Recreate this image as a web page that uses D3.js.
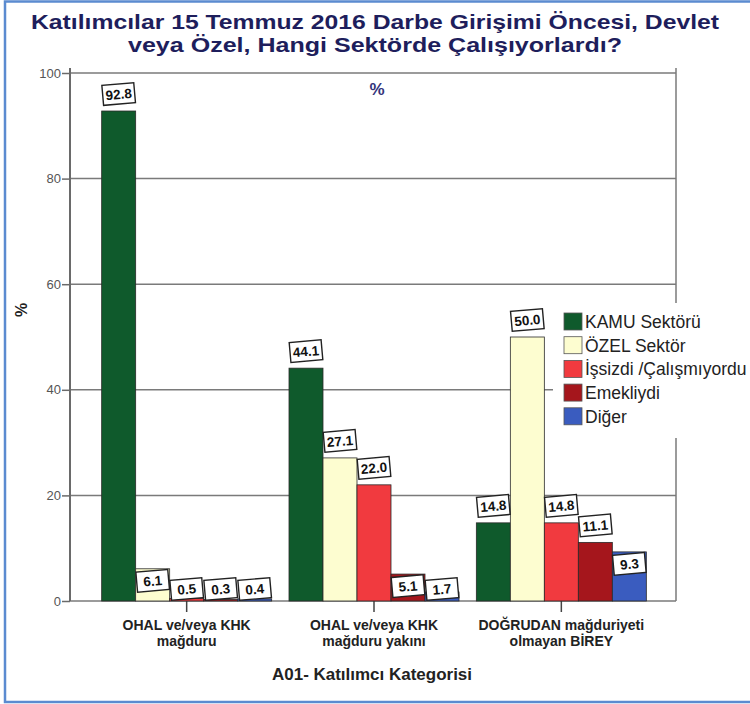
<!DOCTYPE html>
<html>
<head>
<meta charset="utf-8">
<script src="https://cdn.jsdelivr.net/npm/d3@7"></script>
<style>
  body { margin: 0; background: #fff; }
  svg { display: block; font-family: "Liberation Sans", Arial, sans-serif; }
</style>
</head>
<body>
<div id="chart"></div>
<script>
const categories = [
  ['OHAL ve/veya KHK', 'mağduru'],
  ['OHAL ve/veya KHK', 'mağduru yakını'],
  ['DOĞRUDAN mağduriyeti', 'olmayan BİREY']
];
const seriesNames = ['KAMU Sektörü', 'ÖZEL Sektör', 'İşsizdi /Çalışmıyordu', 'Emekliydi', 'Diğer'];
const seriesColors = ['#0f5a2c', '#fdfdd0', '#f13a3f', '#a5161c', '#3a5cbf'];
const kamu = [92.8, 44.1, 14.8];
const ozel = [6.1, 27.1, 50.0];
const issiz = [0.5, 22.0, 14.8];
const emekli = [0.3, 5.1, 11.1];
const diger = [0.4, 1.7, 9.3];
const yTicks = [0, 20, 40, 60, 80, 100];
const titleLines = ['Katılımcılar 15 Temmuz 2016 Darbe Girişimi Öncesi, Devlet', 'veya Özel, Hangi Sektörde Çalışıyorlardı?'];

class BarChart {
  constructor(_parentElement) {
    this.parentElement = _parentElement;
    this.initVis();
  }

  initVis() {
    const vis = this;

    vis.margin = { left: 70, right: 74, top: 73, bottom: 103 };
    vis.width = 750 - vis.margin.left - vis.margin.right;
    vis.height = 704 - vis.margin.top - vis.margin.bottom;

    vis.svg = d3.select(vis.parentElement)
      .append('svg')
      .attr('width', 750)
      .attr('height', 704);

    // outer blue frame (right side runs off the picture)
    vis.svg.append('rect')
      .attr('x', 5).attr('y', 1.5)
      .attr('width', 760).attr('height', 700.5)
      .attr('fill', 'none')
      .attr('stroke', '#5b8bd0')
      .attr('stroke-width', 2.5);

    const titleWidths = [688, 494];
    vis.svg.selectAll('.title')
      .data(titleLines)
      .enter().append('text')
      .attr('class', 'title')
      .attr('x', 375)
      .attr('y', (d, i) => 29 + i * 23)
      .attr('text-anchor', 'middle')
      .attr('font-size', '21px')
      .attr('font-weight', 'bold')
      .attr('fill', '#1e1e5c')
      .attr('textLength', (d, i) => titleWidths[i])
      .attr('lengthAdjust', 'spacingAndGlyphs')
      .text(d => d);

    vis.g = vis.svg.append('g')
      .attr('transform', 'translate(' + vis.margin.left + ', ' + vis.margin.top + ')');

    vis.x = d3.scaleBand()
      .domain(d3.range(categories.length))
      .range([23, vis.width - 21]);
    vis.y = d3.scaleLinear().domain([0, 100]).range([vis.height, 0]);

    vis.wrangleData();
  }

  wrangleData() {
    const vis = this;
    const all = [kamu, ozel, issiz, emekli, diger];
    vis.data = [];
    categories.forEach((c, ci) => {
      all.forEach((s, si) => vis.data.push({ cat: ci, series: si, value: s[ci] }));
    });
    vis.xInner = d3.scaleBand()
      .domain(d3.range(seriesNames.length))
      .range([vis.x.bandwidth() / 2 - 85, vis.x.bandwidth() / 2 + 85]);
    vis.updateVis();
  }

  updateVis() {
    const vis = this;

    // gridlines
    vis.g.selectAll('.grid')
      .data(yTicks)
      .enter().append('line')
      .attr('x1', 0).attr('x2', vis.width)
      .attr('y1', d => vis.y(d)).attr('y2', d => vis.y(d))
      .attr('stroke', '#7a7a7a')
      .attr('stroke-width', 1.5);

    vis.g.append('line')
      .attr('x1', vis.width).attr('x2', vis.width)
      .attr('y1', -5).attr('y2', vis.height)
      .attr('stroke', '#7a7a7a').attr('stroke-width', 1.5);

    vis.yAxis = vis.g.append('g')
      .call(d3.axisLeft(vis.y).tickValues(yTicks).tickSize(8).tickPadding(1));
    vis.yAxis.select('.domain').attr('stroke', '#6a6a6a').attr('stroke-width', 2)
      .attr('d', 'M0,-5V' + vis.height);
    vis.yAxis.selectAll('.tick line').attr('stroke', '#6a6a6a').attr('stroke-width', 1.5);
    vis.yAxis.selectAll('.tick text')
      .attr('font-size', '13px').attr('fill', '#555').attr('font-family', '"Liberation Sans", Arial, sans-serif');

    vis.xAxis = vis.g.append('g')
      .attr('transform', 'translate(0, ' + vis.height + ')')
      .call(d3.axisBottom(vis.x).tickSize(11).tickFormat(''));
    vis.xAxis.select('.domain').remove();
    vis.xAxis.selectAll('.tick line').attr('stroke', '#444').attr('stroke-width', 1.5);

    const labelFont = '"Liberation Sans Narrow", "Arial Narrow", "Liberation Sans", sans-serif';

    categories.forEach((c, ci) => {
      vis.g.append('text')
        .attr('x', vis.x(ci) + vis.x.bandwidth() / 2)
        .attr('y', vis.height + 29)
        .attr('text-anchor', 'middle')
        .attr('font-family', labelFont)
        .attr('font-weight', 'bold')
        .attr('font-size', '14px')
        .attr('fill', '#222')
        .selectAll('tspan')
        .data(c)
        .enter().append('tspan')
        .attr('x', vis.x(ci) + vis.x.bandwidth() / 2)
        .attr('dy', (d, i) => i === 0 ? 0 : 16)
        .text(d => d);
    });

    vis.g.append('text')
      .attr('x', 302)
      .attr('y', vis.height + 79)
      .attr('text-anchor', 'middle')
      .attr('font-family', labelFont)
      .attr('font-weight', 'bold')
      .attr('font-size', '16px')
      .attr('fill', '#222')
      .attr('textLength', 200)
      .attr('lengthAdjust', 'spacingAndGlyphs')
      .text('A01- Katılımcı Kategorisi');

    vis.svg.append('text')
      .attr('transform', 'translate(27, 310) rotate(-90)')
      .attr('text-anchor', 'middle')
      .attr('font-weight', 'bold')
      .attr('font-size', '16px')
      .attr('fill', '#222')
      .text('%');

    vis.g.append('text')
      .attr('x', 307)
      .attr('y', 22)
      .attr('text-anchor', 'middle')
      .attr('font-weight', 'bold')
      .attr('font-size', '17px')
      .attr('fill', '#34347a')
      .text('%');

    // bars
    vis.g.selectAll('.bar')
      .data(vis.data)
      .enter().append('rect')
      .attr('class', 'bar')
      .attr('x', d => vis.x(d.cat) + vis.xInner(d.series))
      .attr('y', d => vis.y(d.value))
      .attr('width', vis.xInner.bandwidth())
      .attr('height', d => vis.height - vis.y(d.value))
      .attr('fill', d => seriesColors[d.series])
      .attr('stroke', '#2a2a2a')
      .attr('stroke-width', 0.8);

    // value labels
    const labelY = d => d.value >= 10 ? vis.y(d.value) - 17 : Math.min(vis.y(d.value) + 12, vis.height - 12);
    const lab = vis.g.selectAll('.vlabel')
      .data(vis.data)
      .enter().append('g')
      .attr('class', 'vlabel')
      .attr('transform', d => 'translate(' + (vis.x(d.cat) + vis.xInner(d.series) + vis.xInner.bandwidth() / 2) + ',' + labelY(d) + ') rotate(-5)');
    lab.append('rect')
      .attr('x', -16).attr('y', -10)
      .attr('width', 32).attr('height', 20)
      .attr('fill', '#fff')
      .attr('stroke', '#222')
      .attr('stroke-width', 1.4);
    lab.append('text')
      .attr('y', 5)
      .attr('text-anchor', 'middle')
      .attr('font-family', labelFont)
      .attr('font-weight', 'bold')
      .attr('font-size', '13.5px')
      .attr('fill', '#111')
      .text(d => d3.format('.1f')(d.value));

    // legend
    const leg = vis.svg.append('g').attr('transform', 'translate(553, 303)');
    leg.append('rect')
      .attr('width', 200).attr('height', 135)
      .attr('fill', '#fff');
    const items = leg.selectAll('.item')
      .data(seriesNames)
      .enter().append('g')
      .attr('transform', (d, i) => 'translate(11, ' + (10 + i * 23.7) + ')');
    items.append('rect')
      .attr('width', 18).attr('height', 17)
      .attr('fill', (d, i) => seriesColors[i])
      .attr('stroke', '#555')
      .attr('stroke-width', 0.8);
    items.append('text')
      .attr('x', 21)
      .attr('y', 15)
      .attr('font-size', '17.5px')
      .attr('fill', '#222')
      .text(d => d);
  }
}

new BarChart('#chart');
</script>
</body>
</html>
